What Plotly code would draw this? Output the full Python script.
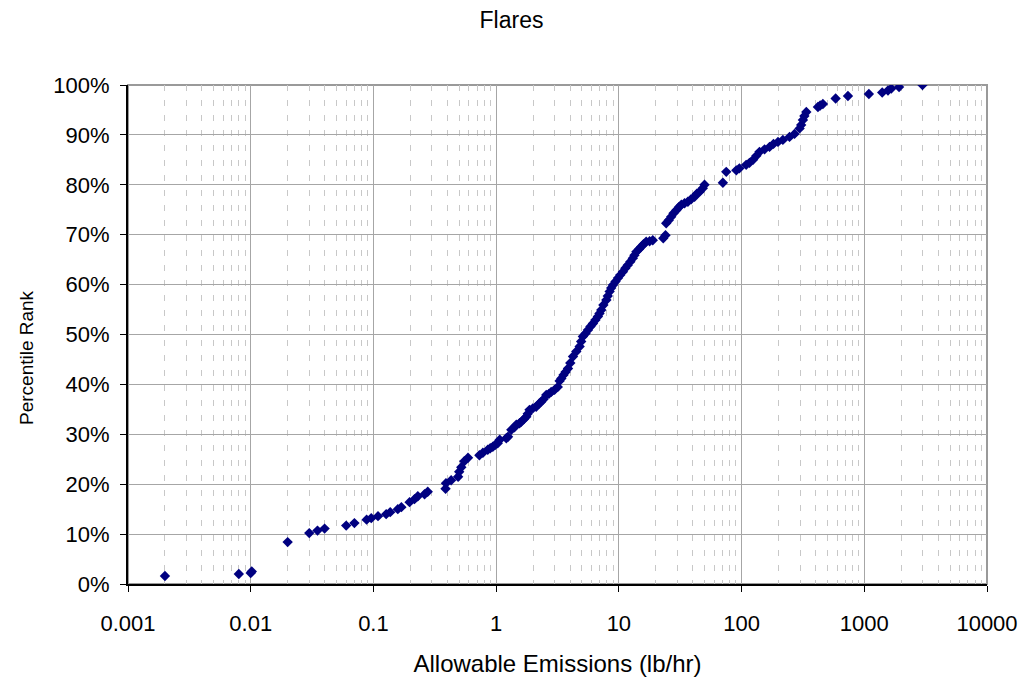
import plotly.graph_objects as go

# Allowable emissions (lb/hr) for each flare and its percentile rank (%)
emissions = [
    0.002, 0.008, 0.010, 0.0102, 0.020,
    0.030, 0.035, 0.040, 0.060, 0.070, 0.088, 0.096, 0.109, 0.127, 0.137,
    0.158, 0.169, 0.197, 0.216, 0.230, 0.261, 0.277,
    0.387, 0.39, 0.43, 0.49, 0.50, 0.52, 0.55, 0.59,
    0.73, 0.78, 0.855, 0.895, 0.94, 0.984, 1.03, 1.07, 1.21, 1.25,
    1.33, 1.41, 1.46, 1.55, 1.60, 1.68, 1.76, 1.81, 1.87, 1.99,
    2.12, 2.23, 2.33, 2.43, 2.56, 2.69, 2.81, 2.99, 3.18, 3.29,
    3.40, 3.54, 3.68, 3.85, 4.02, 4.23, 4.50, 4.79, 4.93, 5.09,
    5.35, 5.60, 5.87, 6.15, 6.44, 6.75, 6.95, 7.19, 7.48, 7.91,
    8.12, 8.41, 8.66, 8.95, 9.39, 9.84, 10.26, 10.8, 11.3, 11.8,
    12.4, 13.0, 13.4, 13.9, 14.6, 15.2, 15.9, 16.7, 17.8, 18.9,
    23.0, 24.0, 24.3, 25.5, 26.7, 27.9, 29.4, 30.8, 32.3, 34.3,
    36.5, 38.8, 41.4, 43.2, 45.5, 48.3, 49.9,
    70.4, 75.0, 90.6,
    96, 109, 116, 124, 132, 140, 154, 169, 182, 198,
    217, 246, 270, 297, 306, 316, 325, 337, 419, 437,
    460, 584, 736,
    1090, 1400, 1560, 1660, 1920, 2980,
]
pct_rank = [
    1.6, 2.0, 2.2, 2.5, 8.4,
    10.2, 10.7, 11.1, 11.7, 12.2, 12.9, 13.2, 13.6, 14.0, 14.4,
    15.0, 15.4, 16.4, 17.0, 17.6, 18.0, 18.5,
    19.1, 20.2, 20.8, 21.5, 22.5, 23.4, 24.6, 25.3,
    25.8, 26.3, 26.9, 27.2, 27.5, 27.9, 28.2, 28.9, 29.2, 29.5,
    30.9, 31.4, 31.9, 32.2, 32.5, 33.0, 33.5, 34.1, 34.9, 35.2,
    35.5, 36.1, 36.5, 37.0, 37.9, 38.1, 38.5, 38.9, 39.5, 40.7,
    41.2, 41.9, 42.5, 43.2, 44.3, 45.6, 46.6, 47.6, 48.6, 49.6,
    50.2, 50.9, 51.6, 52.2, 52.9, 53.6, 54.2, 54.9, 55.9, 56.9,
    57.7, 58.6, 59.3, 59.9, 60.6, 61.3, 61.9, 62.6, 63.3, 63.9,
    64.6, 65.3, 65.9, 66.6, 67.1, 67.6, 68.1, 68.6, 68.7, 68.9,
    69.3, 69.9, 72.3, 72.9, 73.6, 74.3, 74.9, 75.5, 76.0, 76.3,
    76.6, 77.1, 77.6, 78.2, 78.6, 79.3, 80.0,
    80.4, 82.6, 82.9,
    83.3, 84.0, 84.4, 85.0, 85.8, 86.6, 87.1, 87.6, 88.2, 88.6,
    89.0, 89.6, 90.2, 91.3, 92.0, 93.0, 93.8, 94.6, 95.6, 95.9,
    96.2, 97.3, 97.8,
    98.2, 98.5, 98.9, 99.3, 99.6, 100.0,
]

x_tick_vals = [0.001, 0.01, 0.1, 1, 10, 100, 1000, 10000]
x_tick_text = ["0.001", "0.01", "0.1", "1", "10", "100", "1000", "10000"]

FONT = "Liberation Sans, Arial, sans-serif"

fig = go.Figure()
fig.add_trace(go.Scatter(
    x=emissions,
    y=[p / 100 for p in pct_rank],
    mode="markers",
    marker=dict(symbol="diamond", size=8, color="#000080",
                line=dict(width=0)),
    showlegend=False,
))

fig.update_layout(
    width=1023, height=677,
    margin=dict(l=128, r=36, t=85, b=93),
    paper_bgcolor="white", plot_bgcolor="white",
    font=dict(family=FONT, size=22, color="black"),
    title=dict(text="Flares", x=0.5, xref="container", xanchor="center",
               y=1 - 20 / 677, yref="container", yanchor="middle",
               font=dict(size=23)),
)

fig.update_xaxes(
    type="log", range=[-3, 4], automargin=False,
    tickvals=x_tick_vals, ticktext=x_tick_text,
    ticks="outside", ticklen=6, tickcolor="black", tickwidth=1,
    ticklabelstandoff=13,
    showline=True, linecolor="black", linewidth=2,
    showgrid=True, gridcolor="#a6a6a6", gridwidth=1,
    minor=dict(dtick="D1", showgrid=True, gridcolor="#c8c8c8",
               griddash="6px,9px", gridwidth=1, ticks=""),
    zeroline=False,
    title=dict(text="Allowable Emissions (lb/hr)", standoff=24,
               font=dict(size=24)),
)
fig.update_yaxes(
    range=[0, 1], dtick=0.1, tickformat=".0%", automargin=False,
    ticks="outside", ticklen=6, tickcolor="black", tickwidth=1,
    ticklabelstandoff=6,
    showline=True, linecolor="black", linewidth=2,
    showgrid=True, gridcolor="#a6a6a6", gridwidth=1,
    zeroline=False,
)

# vertical axis title
fig.add_annotation(
    text="Percentile Rank", textangle=-90,
    xref="paper", yref="paper", x=(26 - 128) / 859, y=(584 - 358) / 499,
    xanchor="center", yanchor="middle", showarrow=False,
    font=dict(size=19),
)

# gray frame around the plotting area
fig.add_shape(type="rect", xref="x domain", yref="y domain",
              x0=0, x1=1, y0=0, y1=1,
              line=dict(color="#9a9a9a", width=2), layer="below")

fig.write_html("out.html")
